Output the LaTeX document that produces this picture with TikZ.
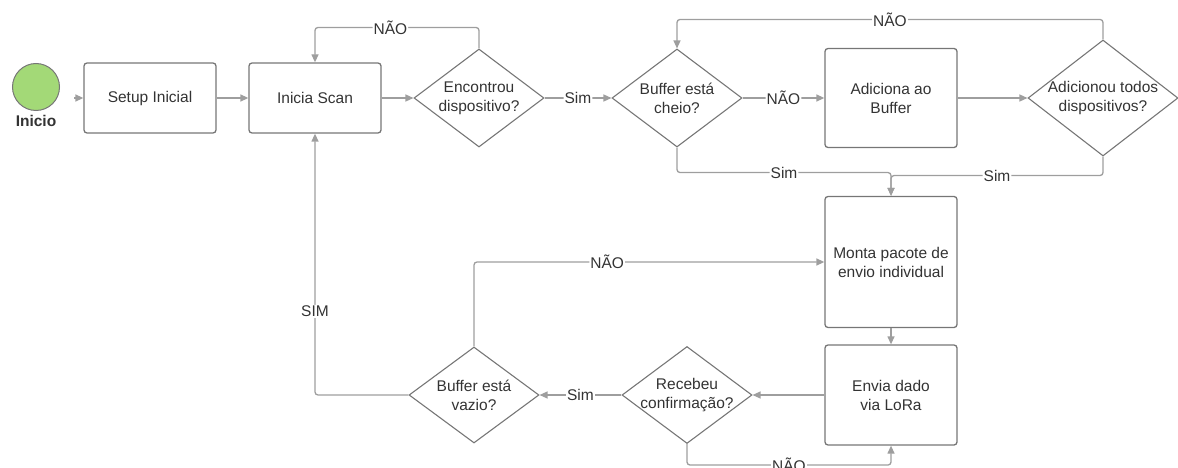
\documentclass[tikz,border=0pt]{standalone}
\usepackage{fontspec}
\setmainfont{Liberation Sans}
\usetikzlibrary{shapes.geometric,arrows.meta,positioning}
\definecolor{linegray}{HTML}{9E9E9E}
\definecolor{boxgray}{HTML}{767676}
\definecolor{txtgray}{HTML}{333333}
\definecolor{startgreen}{HTML}{A3D977}
\begin{document}
\begin{tikzpicture}[x=1pt, y=-1pt, font=\fontsize{15.5}{19}\selectfont, text=txtgray,
	proc/.style={draw=boxgray, line width=1.3pt, rounded corners=3pt, align=center, minimum width=132pt},
	decision/.style={draw=boxgray, line width=1.1pt, diamond, inner sep=0pt, minimum width=130pt, minimum height=98pt},
	qtext/.style={align=center, inner sep=0pt},
	arr/.style={draw=linegray, line width=1.3pt, rounded corners=3pt, -{Triangle[length=8pt,width=7pt]}},
	lbl/.style={fill=white, inner sep=1pt}]
	
	\useasboundingbox (0,0) rectangle (1178,468);
	
	\node[circle, draw=boxgray, fill=startgreen, line width=1pt, minimum size=47pt, inner sep=0pt] (start) at (36,87) {};
	\node[font=\fontsize{15.5}{19}\selectfont\bfseries] (startlbl) at (36,121) {Inicio};
	\coordinate (startout) at (74,98);
	
	\node[proc, minimum height=70pt] (setup) at (150,98) {Setup Inicial};
	\node[proc, minimum height=70pt] (scan) at (315,98) {Inicia Scan};
	\node[decision, label={[qtext]center:Encontrou\\dispositivo?}] (found) at (479,98) {};
	\node[decision, label={[qtext]center:Buffer está\\cheio?}] (full) at (677,98) {};
	\node[proc, minimum height=99pt] (add) at (891,98) {Adiciona ao\\Buffer};
	\node[decision, minimum width=150pt, minimum height=116pt, label={[qtext]center:Adicionou todos\\dispositivos?}] (alldev) at (1103,98) {};
	
	\node[proc, minimum height=131pt] (monta) at (891,262) {Monta pacote de\\envio individual};
	\node[proc, minimum height=100pt] (envia) at (891,395) {Envia dado\\via LoRa};
	\node[decision, minimum height=97pt, label={[qtext]center:Recebeu\\confirmação?}] (receb) at (687,395) {};
	\node[decision, minimum height=96pt, label={[qtext]center:Buffer está\\vazio?}] (empty) at (474,395) {};
	
	\draw[arr] (startout) -- (setup);
	\draw[arr] (setup) -- (scan);
	\draw[arr] (scan) -- (found);
	\draw[arr] (found.north) -- ++(0,-21) -| node[lbl, pos=0.27] {NÃO} (scan.north);
	\draw[arr] (found) -- node[lbl] {Sim} (full);
	\draw[arr] (full) -- node[lbl] {NÃO} (add);
	\draw[arr] (add) -- (alldev);
	\draw[arr] (alldev.north) -- ++(0,-20) -| node[lbl, pos=0.25] {NÃO} (full.north);
	\draw[arr] (full.south) -- ++(0,25) -| node[lbl, pos=0.25] {Sim} (monta.north);
	\draw[arr] (alldev.south) -- ++(0,19) -| node[lbl, pos=0.25] {Sim} (monta.north);
	\draw[arr] (monta) -- (envia);
	\draw[arr] (envia) -- (receb);
	\draw[arr] (receb) -- node[lbl] {Sim} (empty);
	\draw[arr] (receb.south) -- ++(0,21) -| node[lbl, pos=0.25] {NÃO} (envia.south);
	\draw[arr] (empty.west) -| node[lbl, pos=0.66] {SIM} (scan.south);
	\draw[arr] (empty.north) |- node[lbl, pos=0.69] {NÃO} (monta.west);
	
\end{tikzpicture}
\end{document}
